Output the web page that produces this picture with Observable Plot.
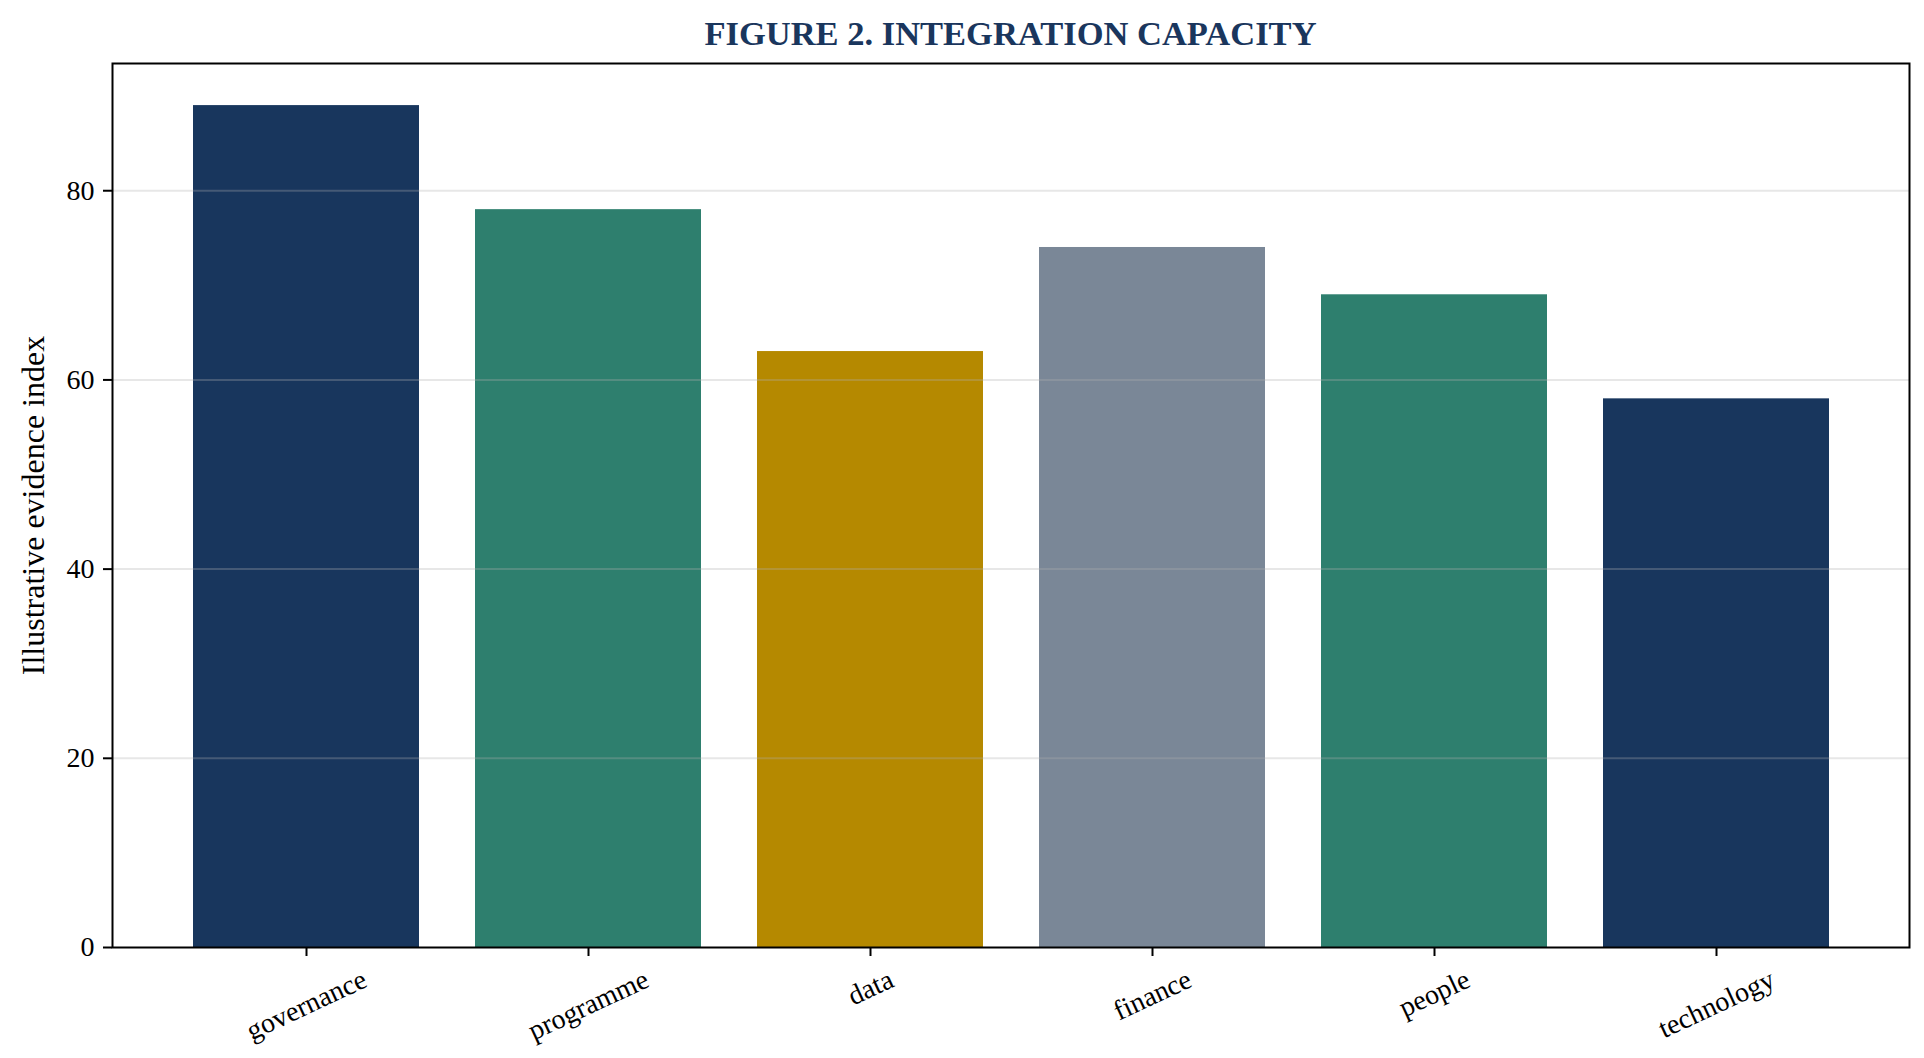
<!DOCTYPE html>
<html>
<head>
<meta charset="utf-8">
<script src="https://cdn.jsdelivr.net/npm/d3@7"></script>
<script src="https://cdn.jsdelivr.net/npm/@observablehq/plot@0.6"></script>
<style>
  html, body { margin: 0; padding: 0; background: #fff; }
  #title {
    height: 50px; line-height: 66px; overflow: visible;
    margin-left: 112px; width: 1797px; text-align: center;
    font-family: "Liberation Serif", "Times New Roman", serif;
    font-weight: bold; font-size: 34.5px; color: #1a365d;
  }
</style>
</head>
<body>
<div id="title">FIGURE 2. INTEGRATION CAPACITY</div>
<div id="chart"></div>
<script>
const categories = ["governance", "programme", "data", "finance", "people", "technology"];
const values = [89, 78, 63, 74, 69, 58];
const barColors = ["#18365d", "#2e7f6e", "#b58900", "#7a8797", "#2e7f6e", "#18365d"];
const yTicks = [0, 20, 40, 60, 80];
const yLabel = "Illustrative evidence index";

const data = categories.map((c, i) => ({category: c, value: values[i], color: barColors[i]}));

const FONT = "Liberation Serif";
const tickFont = 28;
const ctx = document.createElement("canvas").getContext("2d");
ctx.font = `${tickFont}px "${FONT}"`;
const ang = 25 * Math.PI / 180;
function labelDy(t) {
  const w = ctx.measureText(t).width;
  const h = tickFont * 1.05;
  return 9 + 8 + (w * Math.sin(ang) + h * Math.cos(ang)) / 2;
}

const chart = Plot.plot({
  width: 1924,
  height: 1008,
  marginLeft: 112,
  marginRight: 15,
  marginTop: 13,
  marginBottom: 111,
  style: {fontFamily: `"${FONT}", serif`, fontSize: `${tickFont}px`, color: "black", background: "white"},
  x: {domain: categories, paddingInner: 0.2, paddingOuter: 0.286, label: null, axis: null},
  y: {domain: [0, 93.45], label: null, axis: null},
  marks: [
    Plot.barY(data, {x: "category", y: "value", fill: "color"}),
    Plot.ruleY(yTicks.filter(d => d > 0), {stroke: "#b0b0b0", strokeOpacity: 0.3, strokeWidth: 2}),
    Plot.axisY({ticks: yTicks, tickSize: 9, tickPadding: 9, fontSize: tickFont, strokeWidth: 2, label: null, tickFormat: d => String(d)}),
    Plot.axisX({tickSize: 9, strokeWidth: 2, label: null, tickFormat: () => ""}),
    ...categories.map(c => Plot.text([c], {
      x: d => d, frameAnchor: "bottom", dy: labelDy(c), rotate: -25,
      textAnchor: "middle", lineAnchor: "middle", fontSize: tickFont, fill: "black"
    })),
    Plot.text([yLabel], {frameAnchor: "left", dx: -79, rotate: -90, textAnchor: "middle", lineAnchor: "middle", fontSize: 32, fill: "black"}),
    Plot.frame({stroke: "black", strokeWidth: 2})
  ]
});
document.getElementById("chart").appendChild(chart);
</script>
</body>
</html>
